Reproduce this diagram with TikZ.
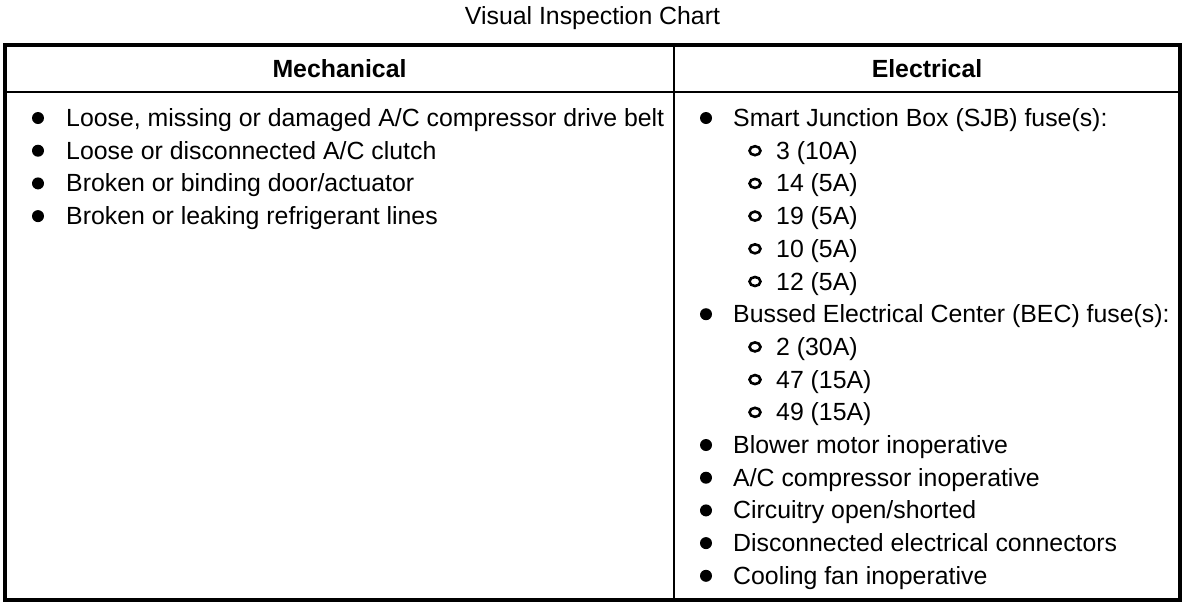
\documentclass[tikz,border=0pt]{standalone}
\usepackage{fontspec}
\usetikzlibrary{shapes.geometric}
\setmainfont{Liberation Sans}
\begin{document}
\begin{tikzpicture}[x=1pt,y=-1pt,
  txt/.style={anchor=base west, inner sep=0pt, font=\fontsize{24.85}{30}\selectfont},
  ctr/.style={anchor=base, inner sep=0pt, font=\fontsize{24.85}{30}\selectfont},
  hdr/.style={anchor=base, inner sep=0pt, font=\fontsize{24.85}{30}\selectfont\bfseries},
  dot/.style={circle, fill=black, inner sep=0pt, minimum size=12pt},
  ring/.style={ellipse, draw=black, line width=2.6pt, inner sep=0pt, minimum width=11pt, minimum height=9pt},
  frame/.style={line width=4pt},
  rule/.style={line width=1.3pt}]
\useasboundingbox (0,0) rectangle (1200,606);
\node[ctr] (title) at (592.5,24) {Visual Inspection Chart};
\coordinate (tl) at (5,45);
\coordinate (br) at (1180,599.5);
\coordinate (hl) at (5,92);
\coordinate (hr) at (1180,92);
\coordinate (vt) at (674,45);
\coordinate (vb) at (674,599.5);
\draw[rule] (hl) -- (hr);
\draw[rule] (vt) -- (vb);
\draw[frame] (tl) rectangle (br);
\node[hdr] (mech) at (339.5,77) {Mechanical};
\node[hdr] (elec) at (927,77) {Electrical};
% left column
\foreach \i/\t in {0/{Loose, missing or damaged A/C compressor drive belt},
                   1/{Loose or disconnected A/C clutch},
                   2/{Broken or binding door/actuator},
                   3/{Broken or leaking refrigerant lines}}{
  \node[dot] (lb\i) at (38,{118+32.7*\i}) {};
  \node[txt] (lt\i) at (66,{118+32.7*\i+8.5}) {\t};
}
% right column, main bullets
\foreach \i/\t in {0/{Smart Junction Box (SJB) fuse(s):},
                   6/{Bussed Electrical Center (BEC) fuse(s):},
                   10/{Blower motor inoperative},
                   11/{A/C compressor inoperative},
                   12/{Circuitry open/shorted},
                   13/{Disconnected electrical connectors},
                   14/{Cooling fan inoperative}}{
  \node[dot] (rb\i) at (706,{118+32.7*\i}) {};
  \node[txt] (rt\i) at (733,{118+32.7*\i+8.5}) {\t};
}
% right column, sub bullets
\foreach \i/\t in {1/{3 (10A)}, 2/{14 (5A)}, 3/{19 (5A)}, 4/{10 (5A)}, 5/{12 (5A)},
                   7/{2 (30A)}, 8/{47 (15A)}, 9/{49 (15A)}}{
  \node[ring] (sb\i) at (755,{118+32.7*\i}) {};
  \node[txt] (st\i) at (776,{118+32.7*\i+8.5}) {\t};
}
\end{tikzpicture}
\end{document}
